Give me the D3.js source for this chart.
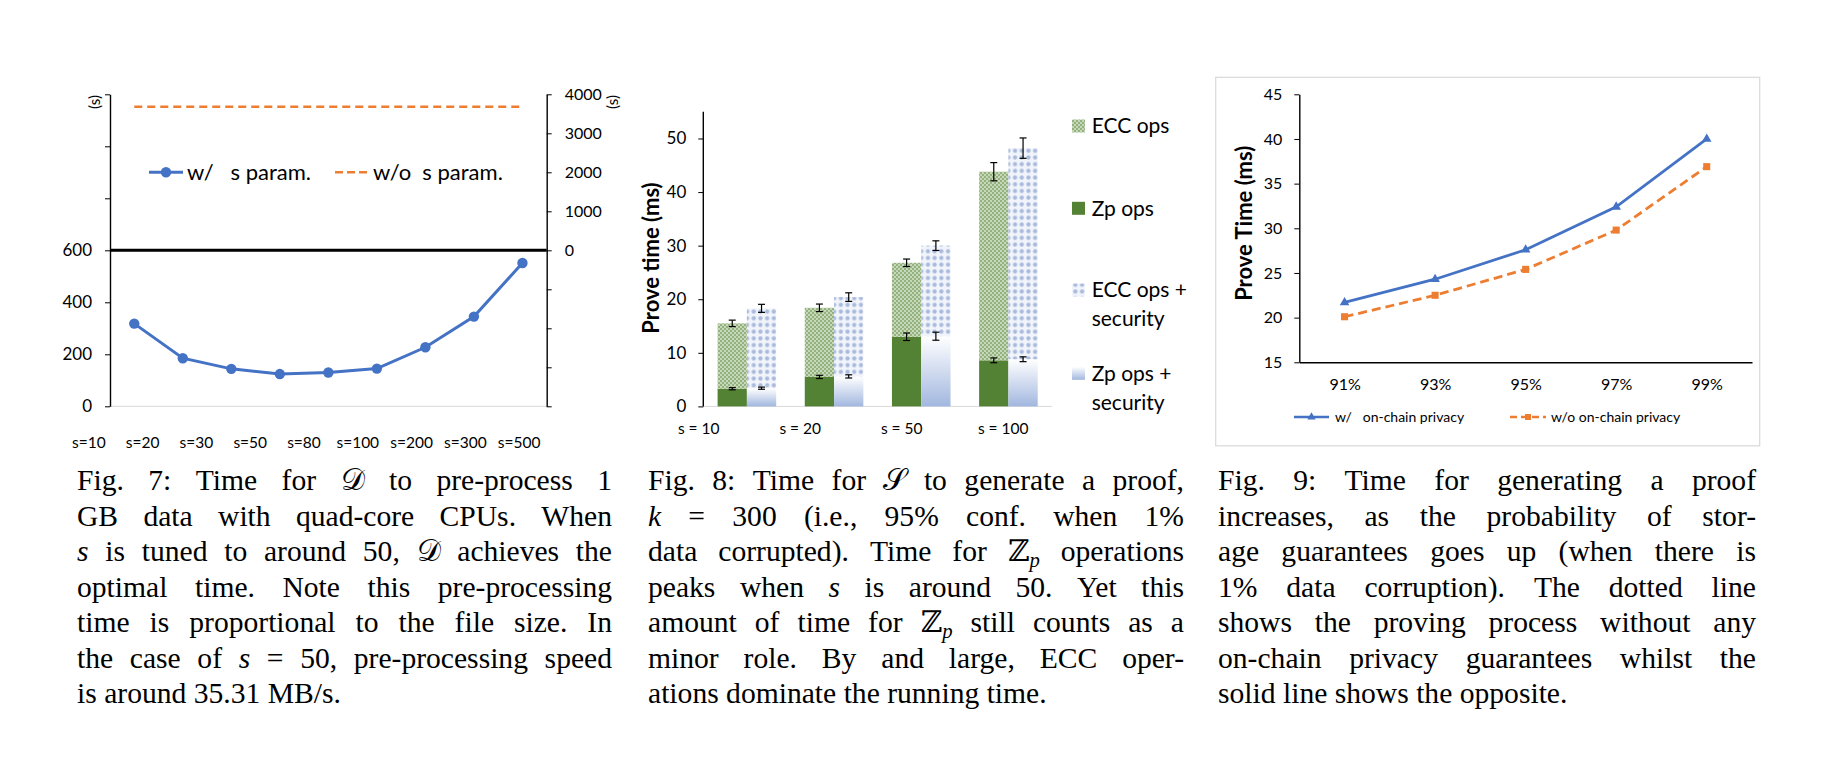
<!DOCTYPE html>
<html><head><meta charset="utf-8">
<script src="https://cdn.jsdelivr.net/npm/d3@7"></script>
<style>
html,body{margin:0;padding:0;background:#fff;}
svg{display:block;}
</style></head><body>
<svg id="c" width="1836" height="766"></svg>
<script>
// ---------------- DATA ----------------
const fig7Categories = ["s=10","s=20","s=30","s=50","s=80","s=100","s=200","s=300","s=500"];
const fig7WithS = [318,185,144,124,130,145,227,345,551];
const fig7WithoutS = [3680,3680,3680,3680,3680,3680,3680,3680,3680];
const fig7LeftTicks = [0,200,400,600,800,1000,1200];
const fig7LeftLabels = ["0","200","400","600","","",""];
const fig7RightTicks = [-4000,-3000,-2000,-1000,0,1000,2000,3000,4000];
const fig7RightLabels = ["","","","","0","1000","2000","3000","4000"];
const fig7Legend = ["w/   s param.","w/o  s param."];

const fig8Groups = ["s = 10","s = 20","s = 50","s = 100"];
const fig8ZpOps = [3.3,5.5,13.0,8.6];
const fig8EccOps = [12.2,12.9,13.8,35.2];
const fig8ZpOpsSec = [3.4,5.6,13.1,8.8];
const fig8EccOpsSec = [14.9,14.8,16.9,39.4];
const fig8ZpErr = [0.2,0.3,0.7,0.45];
const fig8EccErr = [0.6,0.7,0.7,1.7];
const fig8ZpSecErr = [0.2,0.3,0.75,0.45];
const fig8EccSecErr = [0.75,0.8,0.9,1.9];
const fig8Ticks = [0,10,20,30,40,50];
const fig8Legend = [["ECC ops"],["Zp ops"],["ECC ops +","security"],["Zp ops +","security"]];

const fig9Categories = ["91%","93%","95%","97%","99%"];
const fig9WithPrivacy = [21.7,24.3,27.6,32.4,40.0];
const fig9WithoutPrivacy = [20.1,22.5,25.4,29.8,36.9];
const fig9Ticks = [15,20,25,30,35,40,45];
const fig9Legend = ["w/   on-chain privacy","w/o on-chain privacy"];

const caption7 = [
  "Fig. 7: Time for \u{1D49F} to pre-process 1",
  "GB data with quad-core CPUs. When",
  "*s* is tuned to around 50, \u{1D49F} achieves the",
  "optimal time. Note this pre-processing",
  "time is proportional to the file size. In",
  "the case of *s* = 50, pre-processing speed",
  "is around 35.31 MB/s."
];
const caption8 = [
  "Fig. 8: Time for \u{1D4AE} to generate a proof,",
  "*k* = 300 (i.e., 95% conf. when 1%",
  "data corrupted). Time for \u2124_p operations",
  "peaks when *s* is around 50. Yet this",
  "amount of time for \u2124_p still counts as a",
  "minor role. By and large, ECC oper-",
  "ations dominate the running time."
];
const caption9 = [
  "Fig. 9: Time for generating a proof",
  "increases, as the probability of stor-",
  "age guarantees goes up (when there is",
  "1% data corruption). The dotted line",
  "shows the proving process without any",
  "on-chain privacy guarantees whilst the",
  "solid line shows the opposite."
];

// ---------------- STYLE ----------------
const FONT = "Lato, 'Open Sans', sans-serif";
const SERIF = "'Liberation Serif', 'DejaVu Serif', serif";
const MATHF = "'DejaVu Serif', 'DejaVu Sans', 'Noto Sans', serif";
const BLUE = "#4472c4", ORANGE = "#ed7d31";
const CAP_SIZE = 29.6;

const svg = d3.select("#c");
const defs = svg.append("defs");

// patterns
const pE = defs.append("pattern").attr("id","pEcc").attr("width",4).attr("height",4).attr("patternUnits","userSpaceOnUse");
pE.append("rect").attr("width",4).attr("height",4).attr("fill","#c7d8ba");
pE.append("rect").attr("width",2).attr("height",2).attr("fill","#94b27e");
pE.append("rect").attr("x",2).attr("y",2).attr("width",2).attr("height",2).attr("fill","#94b27e");

const pS = defs.append("pattern").attr("id","pEccSec").attr("width",6.7).attr("height",6.7).attr("patternUnits","userSpaceOnUse");
pS.append("rect").attr("width",6.7).attr("height",6.7).attr("fill","#f1f4fa");
pS.append("circle").attr("cx",3.35).attr("cy",3.35).attr("r",2.1).attr("fill","#a9badd");

const gZ = defs.append("linearGradient").attr("id","gZpSec").attr("x1",0).attr("y1",0).attr("x2",0).attr("y2",1);
gZ.append("stop").attr("offset","0%").attr("stop-color","#ffffff");
gZ.append("stop").attr("offset","100%").attr("stop-color","#a2b7df");

function styleAxis(g, size){
  g.select(".domain").attr("stroke","#000").attr("stroke-width",1.4);
  g.selectAll(".tick line").attr("stroke","#000").attr("stroke-width",1);
  g.selectAll("text").attr("font-family",FONT).attr("font-size",size).attr("fill","#000");
}

// ---------------- FIG 7 ----------------
const f7 = {l:110, r:546.7, t:94.3, b:406.3};
const y7L = d3.scaleLinear().domain([0,1200]).range([f7.b,f7.t]);
const y7R = d3.scaleLinear().domain([-4000,4000]).range([f7.b,f7.t]);
const x7 = d3.scalePoint().domain(fig7Categories).range([f7.l,f7.r]).padding(0.5);
const x7lab = d3.scalePoint().domain(fig7Categories).range([62,546]).padding(0.5);

svg.append("line").attr("x1",f7.l).attr("x2",f7.r).attr("y1",f7.b).attr("y2",f7.b).attr("stroke","#d9d9d9").attr("stroke-width",1);

const ax7L = svg.append("g").attr("transform",`translate(${f7.l},0)`)
  .call(d3.axisLeft(y7L).tickValues(fig7LeftTicks).tickSize(5).tickSizeOuter(0).tickPadding(13)
    .tickFormat((d,i)=>fig7LeftLabels[i]));
styleAxis(ax7L,17);
const ax7R = svg.append("g").attr("transform",`translate(${f7.r},0)`)
  .call(d3.axisRight(y7R).tickValues(fig7RightTicks).tickSize(5).tickSizeOuter(0).tickPadding(13)
    .tickFormat((d,i)=>fig7RightLabels[i]));
styleAxis(ax7R,16);

svg.append("text").attr("transform",`translate(100,102) rotate(-90)`).attr("text-anchor","middle")
  .attr("font-family",FONT).attr("font-size",15).text("(s)");
svg.append("text").attr("transform",`translate(618,102) rotate(-90)`).attr("text-anchor","middle")
  .attr("font-family",FONT).attr("font-size",15).text("(s)");

// break line
svg.append("line").attr("x1",f7.l).attr("x2",f7.r).attr("y1",y7L(600)).attr("y2",y7L(600))
  .attr("stroke","#000").attr("stroke-width",3);

// w/o dashed
svg.append("path").datum(fig7WithoutS)
  .attr("d", d3.line().x((d,i)=>x7(fig7Categories[i])).y(d=>y7R(d)))
  .attr("fill","none").attr("stroke",ORANGE).attr("stroke-width",2.6).attr("stroke-dasharray","8,5");

// w/ line
svg.append("path").datum(fig7WithS)
  .attr("d", d3.line().x((d,i)=>x7(fig7Categories[i])).y(d=>y7L(d)))
  .attr("fill","none").attr("stroke",BLUE).attr("stroke-width",3);
svg.selectAll(".p7").data(fig7WithS).enter().append("circle")
  .attr("cx",(d,i)=>x7(fig7Categories[i])).attr("cy",d=>y7L(d)).attr("r",5.2).attr("fill",BLUE);

svg.selectAll(".xl7").data(fig7Categories).enter().append("text")
  .attr("x",d=>x7lab(d)).attr("y",448).attr("text-anchor","middle")
  .attr("font-family",FONT).attr("font-size",15.5).text(d=>d);

// legend 7
const lg7 = svg.append("g");
lg7.append("line").attr("x1",149).attr("x2",183).attr("y1",172.3).attr("y2",172.3).attr("stroke",BLUE).attr("stroke-width",3);
lg7.append("circle").attr("cx",166).attr("cy",172.3).attr("r",5.2).attr("fill",BLUE);
lg7.append("text").attr("x",187).attr("y",180).attr("font-family",FONT).attr("font-size",22)
  .attr("xml:space","preserve").style("white-space","pre").text(fig7Legend[0]);
lg7.append("line").attr("x1",335).attr("x2",367).attr("y1",172.3).attr("y2",172.3).attr("stroke",ORANGE).attr("stroke-width",2.6).attr("stroke-dasharray","8,4");
lg7.append("text").attr("x",373).attr("y",180).attr("font-family",FONT).attr("font-size",22)
  .attr("xml:space","preserve").style("white-space","pre").text(fig7Legend[1]);

// ---------------- FIG 8 ----------------
const f8 = {l:703.3, r:1052, t:111.7, b:406.4};
const y8 = d3.scaleLinear().domain([0,55]).range([f8.b,f8.t]);
const x8 = d3.scaleBand().domain(fig8Groups).range([f8.l,f8.r]).paddingInner(0.328).paddingOuter(0.164);
const x8s = d3.scaleBand().domain(["base","sec"]).range([0,x8.bandwidth()]);
const x8lab = d3.scalePoint().domain(fig8Groups).range([648,1054]).padding(0.5);

svg.append("line").attr("x1",f8.l).attr("x2",f8.r).attr("y1",f8.b).attr("y2",f8.b).attr("stroke","#d9d9d9");

const rows8 = fig8Groups.map((g,i)=>({g, zp:fig8ZpOps[i], ecc:fig8EccOps[i], zpS:fig8ZpOpsSec[i], eccS:fig8EccOpsSec[i]}));
const st8 = d3.stack().keys(["zp","ecc"])(rows8);
const st8s = d3.stack().keys(["zpS","eccS"])(rows8);
const fills8 = {zp:"#548235", ecc:"url(#pEcc)", zpS:"url(#gZpSec)", eccS:"url(#pEccSec)"};
const errs8 = {zp:fig8ZpErr, ecc:fig8EccErr, zpS:fig8ZpSecErr, eccS:fig8EccSecErr};

function drawStack(stack, sub){
  stack.forEach(layer=>{
    svg.append("g").selectAll("rect").data(layer).enter().append("rect")
      .attr("x",d=>x8(d.data.g)+x8s(sub)).attr("width",x8s.bandwidth())
      .attr("y",d=>y8(d[1])).attr("height",d=>y8(d[0])-y8(d[1]))
      .attr("fill",fills8[layer.key]);
  });
  stack.forEach(layer=>{
    const e = errs8[layer.key];
    const g = svg.append("g").attr("stroke","#000").attr("stroke-width",1.2);
    layer.forEach((d,i)=>{
      const cx = x8(d.data.g)+x8s(sub)+x8s.bandwidth()/2;
      const y1 = y8(d[1]+e[i]), y2 = y8(d[1]-e[i]);
      g.append("line").attr("x1",cx).attr("x2",cx).attr("y1",y1).attr("y2",y2);
      g.append("line").attr("x1",cx-3.5).attr("x2",cx+3.5).attr("y1",y1).attr("y2",y1);
      g.append("line").attr("x1",cx-3.5).attr("x2",cx+3.5).attr("y1",y2).attr("y2",y2);
    });
  });
}
drawStack(st8,"base");
drawStack(st8s,"sec");

const ax8 = svg.append("g").attr("transform",`translate(${f8.l},0)`)
  .call(d3.axisLeft(y8).tickValues(fig8Ticks).tickSize(5).tickSizeOuter(0).tickPadding(12));
styleAxis(ax8,17);
ax8.select(".domain").attr("d",`M-0,${f8.b}V${f8.t}`);

svg.append("text").attr("transform",`translate(651.7,258) rotate(-90)`).attr("text-anchor","middle")
  .attr("dy","0.35em").attr("font-family",FONT).attr("font-weight","bold").attr("font-size",22).text("Prove time (ms)");

svg.selectAll(".xl8").data(fig8Groups).enter().append("text")
  .attr("x",d=>x8lab(d)).attr("y",434).attr("text-anchor","middle")
  .attr("font-family",FONT).attr("font-size",15.5).attr("xml:space","preserve").text(d=>d);

// legend 8
const lg8y = [126,208.3,290,373.3];
const lg8f = ["url(#pEcc)","#548235","url(#pEccSec)","url(#gZpSec)"];
fig8Legend.forEach((lab,i)=>{
  svg.append("rect").attr("x",1072).attr("y",lg8y[i]-6.5).attr("width",13).attr("height",13).attr("fill",lg8f[i]);
  lab.forEach((t,j)=>{
    svg.append("text").attr("x",1091.7).attr("y",lg8y[i]+j*29).attr("dy","0.35em")
      .attr("font-family",FONT).attr("font-size",21).text(t);
  });
});

// ---------------- FIG 9 ----------------
svg.append("rect").attr("x",1215.7).attr("y",77.3).attr("width",544).attr("height",368.5)
  .attr("fill","none").attr("stroke","#d9d9d9").attr("stroke-width",1.2);
const f9 = {l:1299.3, r:1752, t:94.3, b:362.3};
const y9 = d3.scaleLinear().domain([15,45]).range([f9.b,f9.t]);
const x9 = d3.scalePoint().domain(fig9Categories).range([f9.l,f9.r]).padding(0.5);

const ax9 = svg.append("g").attr("transform",`translate(${f9.l},0)`)
  .call(d3.axisLeft(y9).tickValues(fig9Ticks).tickSize(5).tickSizeOuter(0).tickPadding(12));
styleAxis(ax9,16);
const ax9x = svg.append("g").attr("transform",`translate(0,${f9.b})`)
  .call(d3.axisBottom(x9).tickSize(0).tickSizeOuter(0).tickPadding(16));
styleAxis(ax9x,16);
ax9x.select(".domain").attr("stroke-width",1.4);

svg.append("text").attr("transform",`translate(1244.3,223.3) rotate(-90)`).attr("text-anchor","middle")
  .attr("dy","0.35em").attr("font-family",FONT).attr("font-weight","bold").attr("font-size",22).text("Prove Time (ms)");

const line9 = d3.line().x((d,i)=>x9(fig9Categories[i])).y(d=>y9(d));
svg.append("path").datum(fig9WithoutPrivacy).attr("d",line9).attr("fill","none")
  .attr("stroke",ORANGE).attr("stroke-width",2.8).attr("stroke-dasharray","9,5");
svg.selectAll(".sq9").data(fig9WithoutPrivacy).enter().append("path")
  .attr("transform",(d,i)=>`translate(${x9(fig9Categories[i])},${y9(d)})`)
  .attr("d",d3.symbol(d3.symbolSquare,50)).attr("fill",ORANGE);
svg.append("path").datum(fig9WithPrivacy).attr("d",line9).attr("fill","none")
  .attr("stroke",BLUE).attr("stroke-width",2.8);
svg.selectAll(".tr9").data(fig9WithPrivacy).enter().append("path")
  .attr("transform",(d,i)=>`translate(${x9(fig9Categories[i])},${y9(d)})`)
  .attr("d",d3.symbol(d3.symbolTriangle,40)).attr("fill",BLUE);

// legend 9
const lg9 = svg.append("g");
lg9.append("line").attr("x1",1294).attr("x2",1329).attr("y1",417).attr("y2",417).attr("stroke",BLUE).attr("stroke-width",2.5);
lg9.append("path").attr("transform","translate(1311.5,417)").attr("d",d3.symbol(d3.symbolTriangle,30)).attr("fill",BLUE);
lg9.append("text").attr("x",1335).attr("y",417).attr("dy","0.35em").attr("font-family",FONT).attr("font-size",14)
  .attr("xml:space","preserve").style("white-space","pre").text(fig9Legend[0]);
lg9.append("line").attr("x1",1510).attr("x2",1546).attr("y1",417).attr("y2",417).attr("stroke",ORANGE).attr("stroke-width",2.5).attr("stroke-dasharray","7,4");
lg9.append("path").attr("transform","translate(1528,417)").attr("d",d3.symbol(d3.symbolSquare,36)).attr("fill",ORANGE);
lg9.append("text").attr("x",1551).attr("y",417).attr("dy","0.35em").attr("font-family",FONT).attr("font-size",14)
  .attr("xml:space","preserve").style("white-space","pre").text(fig9Legend[1]);

// ---------------- CAPTIONS ----------------
function addSegments(t, word){
  const parts = word.split(/(\*[^*]*\*|_p)/).filter(s=>s.length);
  let shifted = false;
  parts.forEach(p=>{
    if(p==="_p"){
      t.append("tspan").attr("font-style","italic").attr("font-size",CAP_SIZE*0.7).attr("dy",6).text("p");
      shifted = true; return;
    }
    let italic = false, txt = p;
    if(p.startsWith("*")){ italic = true; txt = p.slice(1,-1); }
    const sub = txt.split(/([\u{1D400}-\u{1D7FF}\u2124])/u).filter(s=>s.length);
    sub.forEach(s=>{
      const ts = t.append("tspan").text(s);
      if(italic) ts.attr("font-style","italic");
      if(/[\u{1D400}-\u{1D7FF}\u2124]/u.test(s)) ts.attr("font-family",MATHF);
      if(shifted){ ts.attr("dy",-6); shifted=false; }
    });
  });
}
function caption(x0, width, y0, lh, lines){
  lines.forEach((line,li)=>{
    const y = y0 + li*lh;
    const words = line.split(" ");
    const texts = words.map(w=>{
      const t = svg.append("text").attr("y",y).attr("font-family",SERIF).attr("font-size",CAP_SIZE).attr("fill","#000");
      addSegments(t,w);
      return t;
    });
    const widths = texts.map(t=>t.node().getComputedTextLength());
    const sum = d3.sum(widths);
    const last = li===lines.length-1;
    const gap = last ? CAP_SIZE*0.25 : (width-sum)/(words.length-1);
    let x = x0;
    texts.forEach((t,i)=>{ t.attr("x",x); x += widths[i]+gap; });
  });
}
caption(77,535,490,35.5,caption7);
caption(648,536,490,35.5,caption8);
caption(1218,538,490,35.5,caption9);
</script></body></html>
